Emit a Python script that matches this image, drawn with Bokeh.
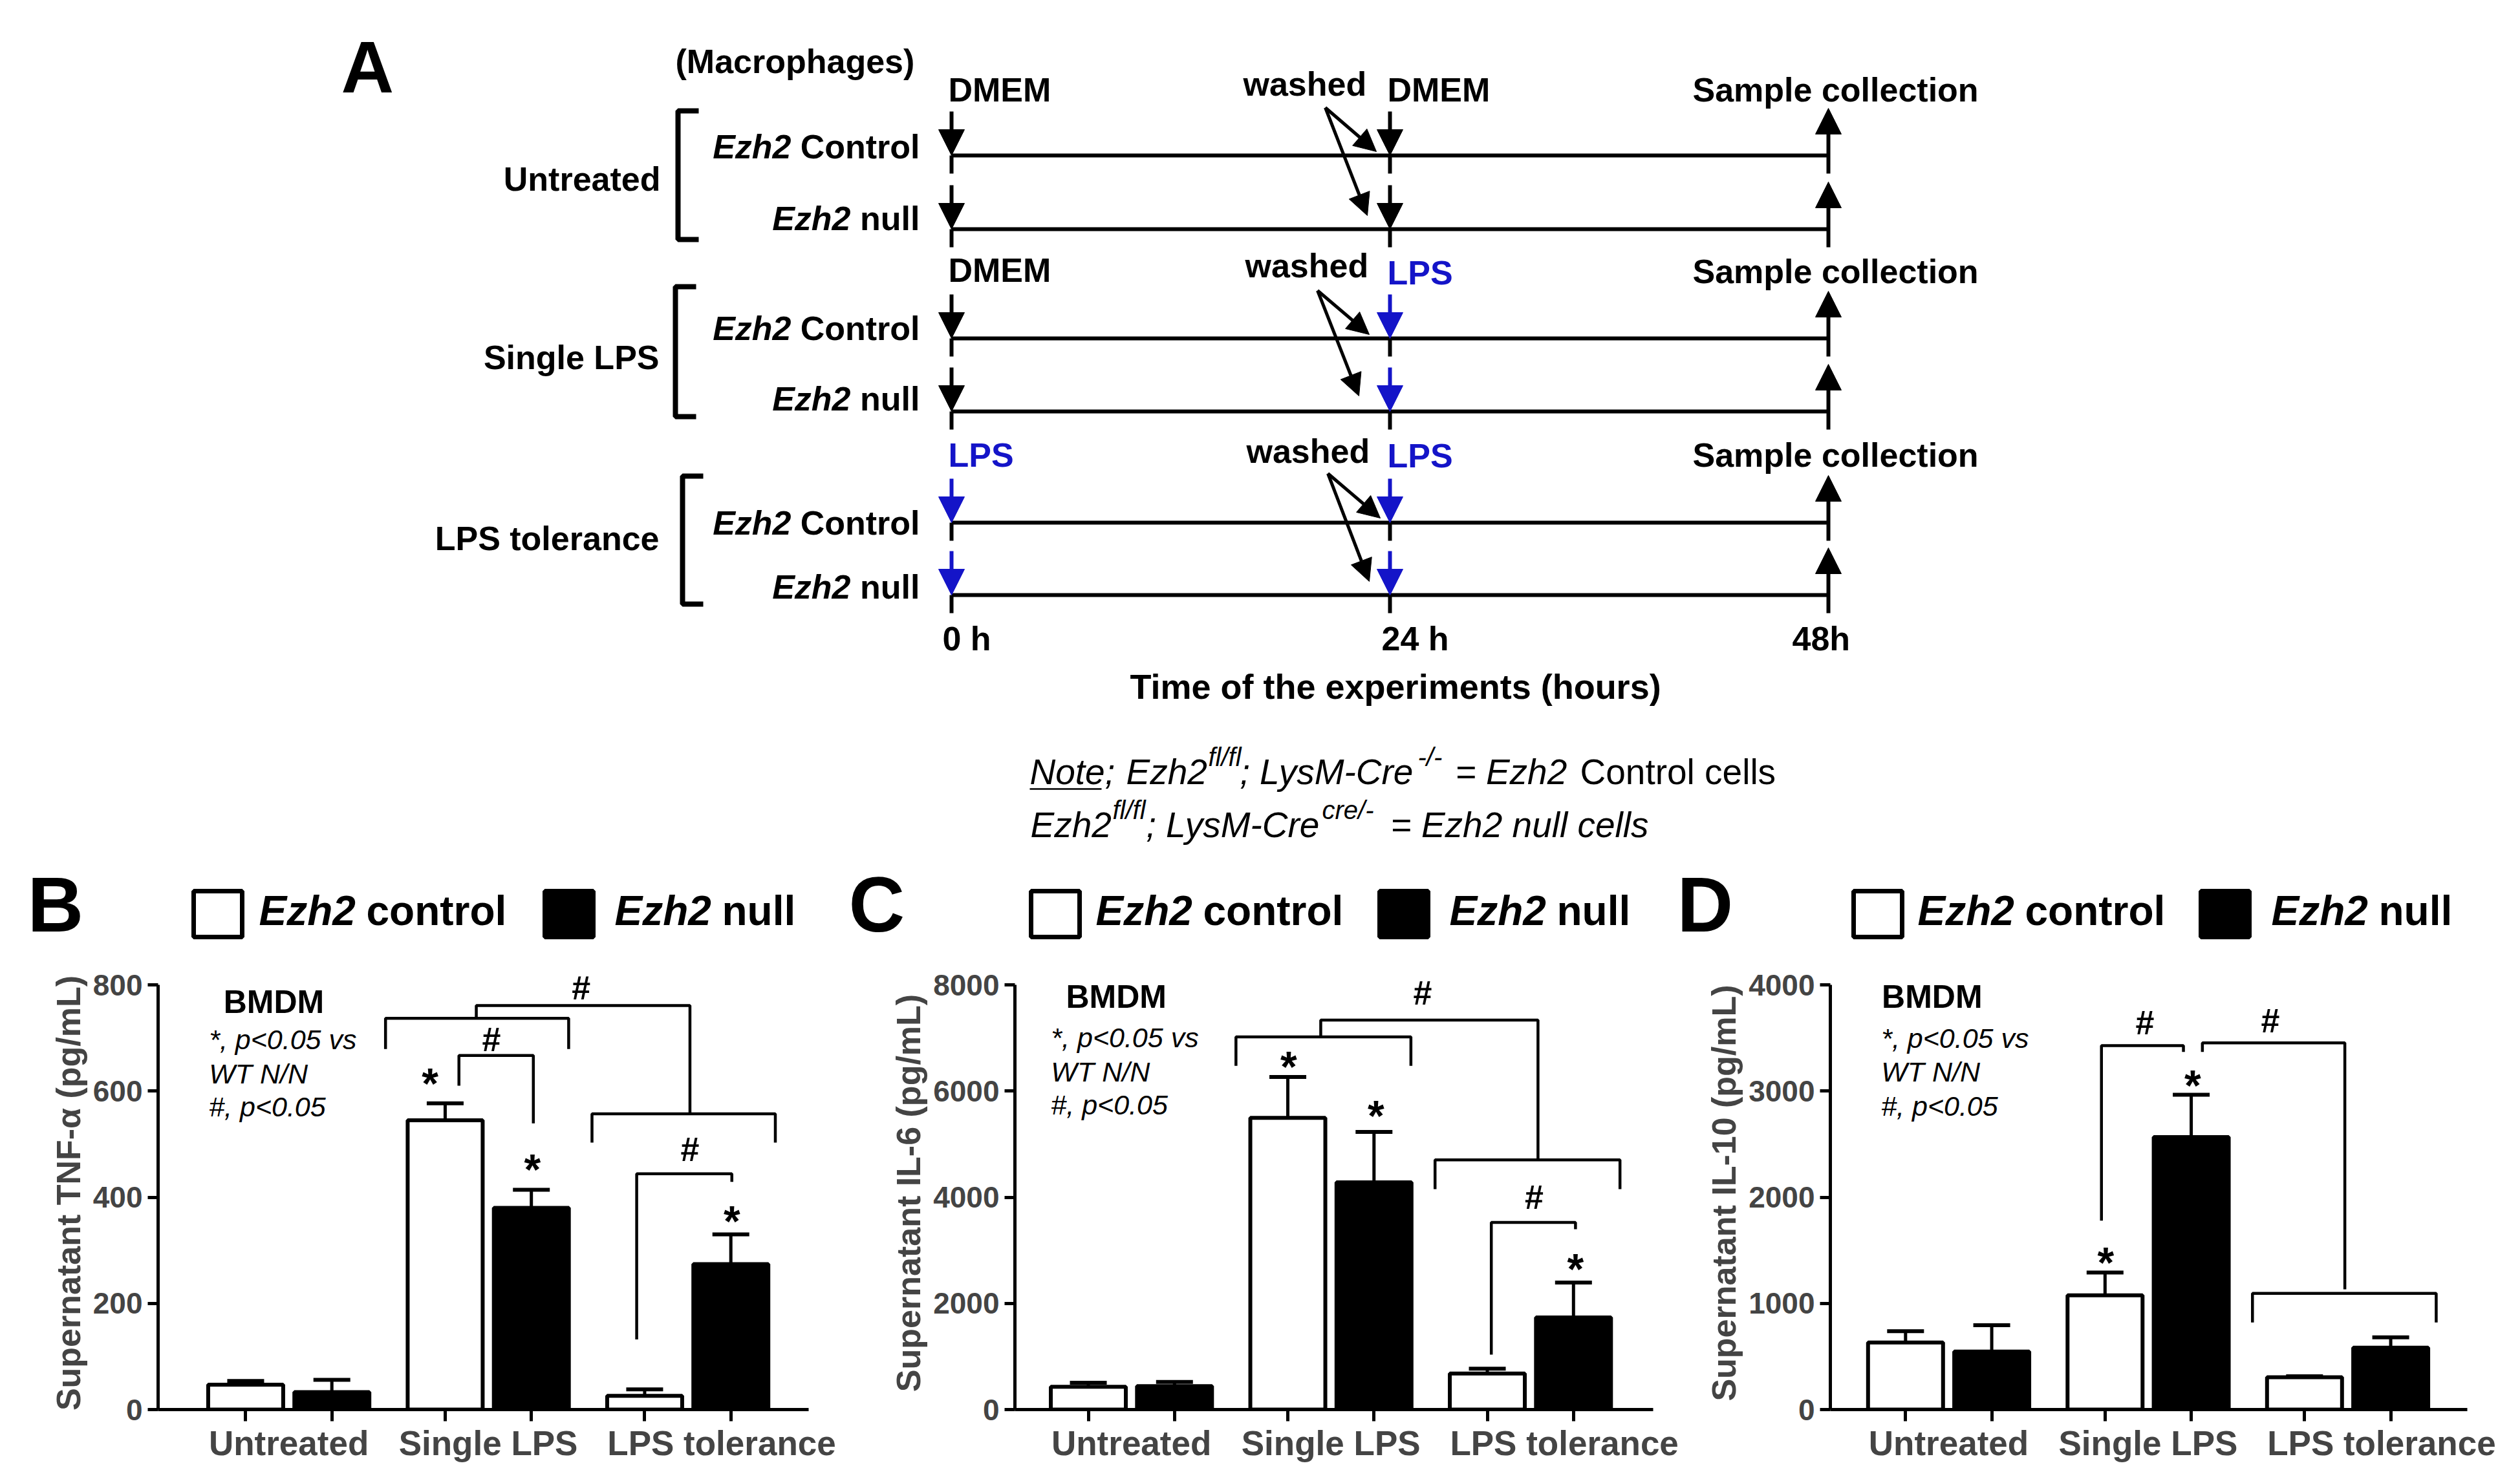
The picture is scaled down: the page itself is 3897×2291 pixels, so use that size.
import numpy as np
from bokeh.plotting import figure
from bokeh.models import (Range1d, ColumnDataSource, FixedTicker, Whisker, TeeHead,
                          Arrow, NormalHead, LinearAxis)
from bokeh.layouts import column, row
from bokeh.embed import file_html
from bokeh.resources import INLINE
from bokeh.core.properties import value

FONT = "Liberation Sans"
BLUE = "#1414C8"

# ---------------- data ----------------
categories = ["Untreated", "Single LPS", "LPS tolerance"]

tnf_control = [47, 545, 26]
tnf_control_sem = [7, 32, 12]
tnf_null = [33, 380, 274]
tnf_null_sem = [23, 34, 56]

il6_control = [430, 5494, 679]
il6_control_sem = [76, 770, 91]
il6_null = [440, 4280, 1736]
il6_null_sem = [80, 950, 656]

il10_control = [632, 1076, 305]
il10_control_sem = [106, 215, 8]
il10_null = [546, 2566, 583]
il10_null_sem = [248, 399, 98]

tnf_ticks = [0, 200, 400, 600, 800]
il6_ticks = [0, 2000, 4000, 6000, 8000]
il10_ticks = [0, 1000, 2000, 3000, 4000]

hours = [0, 24, 48]
hour_labels = ["0 h", "24 h", "48h"]
first_treatment = ["DMEM", "DMEM", "LPS"]
second_treatment = ["DMEM", "LPS", "LPS"]
row_names = ["Control", "null"]

stats_lines = ["*, p<0.05 vs", "WT N/N", "#, p<0.05"]


def add_text(p, xs, ys, texts, size, style="bold", align="left", color="black",
             y_offset=0, font=FONT):
    # ys are the vertical centres of the capital letters
    src = ColumnDataSource(dict(x=list(xs), y=list(ys), t=list(texts)))
    p.text(x="x", y="y", text="t", source=src, text_font=value(font),
           text_font_size=value(f"{size}px"), text_font_style=value(style),
           text_align=align, text_baseline="middle", text_color=color, y_offset=y_offset)


# ================= top canvas: panel A, note, letters, legends =================
TOP_W, TOP_H = 3881, 1480
top = figure(width=TOP_W, height=TOP_H, title=None, x_range=Range1d(0, TOP_W),
             y_range=Range1d(TOP_H, 0), x_axis_type=None, y_axis_type=None,
             output_backend="svg", toolbar_location=None, min_border=0)
top.outline_line_color = None


def hx(t):
    return 1471 + t * (2827 - 1471) / 48.0


row_y = [240, 354, 523, 636, 808, 920]

# timelines
top.segment(x0=[hx(hours[0])] * 6, y0=row_y, x1=[hx(hours[-1])] * 6, y1=row_y,
            line_color="black", line_width=6)

arrows = {"black": dict(x0=[], y0=[], x1=[], y1=[]), BLUE: dict(x0=[], y0=[], x1=[], y1=[])}
stub = dict(x0=[], y0=[], x1=[], y1=[])
for i, y in enumerate(row_y):
    g = i // 2
    for t, treat in ((hours[0], first_treatment[g]), (hours[1], second_treatment[g])):
        c = BLUE if treat == "LPS" else "black"
        X = hx(t)
        d = arrows[c]
        d["x0"].append(X); d["y0"].append(y - 68); d["x1"].append(X); d["y1"].append(y)
        stub["x0"].append(X); stub["y0"].append(y); stub["x1"].append(X); stub["y1"].append(y + 28)
    X = hx(hours[2])
    d = arrows["black"]
    d["x0"].append(X); d["y0"].append(y + 28); d["x1"].append(X); d["y1"].append(y - 73)

top.segment(x0="x0", y0="y0", x1="x1", y1="y1", source=ColumnDataSource(stub),
            line_color="black", line_width=6)
for c, d in arrows.items():
    top.add_layout(Arrow(end=NormalHead(size=40, fill_color=c, line_color=c, line_width=1),
                         x_start="x0", y_start="y0", x_end="x1", y_end="y1",
                         source=ColumnDataSource(d), line_color=c, line_width=6))

# "washed" arrows
wash_start = [(2049, 166), (2037, 449), (2053, 732)]
wash_tips = [[(2128, 234), (2114, 333)], [(2117, 517), (2101, 612)], [(2134, 801), (2117, 899)]]
wd = dict(x0=[], y0=[], x1=[], y1=[])
for (sx, sy), tips in zip(wash_start, wash_tips):
    for tx, ty in tips:
        wd["x0"].append(sx); wd["y0"].append(sy); wd["x1"].append(tx); wd["y1"].append(ty)
top.add_layout(Arrow(end=NormalHead(size=34, fill_color="black", line_color="black", line_width=1),
                     x_start="x0", y_start="y0", x_end="x1", y_end="y1",
                     source=ColumnDataSource(wd), line_color="black", line_width=5))

# group brackets "["
br_x = [1048, 1044, 1055]
br_top = [171, 443, 736]
br_bot = [370, 644, 934]
top.multi_line(xs=[[x + 32, x, x, x + 32] for x in br_x],
               ys=[[a, a, b, b] for a, b in zip(br_top, br_bot)],
               line_color="black", line_width=8)

# panel A texts (y = centre of capitals)
add_text(top, [527], [103], ["A"], 113)
add_text(top, [1044], [94], ["(Macrophages)"], 52)
add_text(top, [1021, 1019, 1019], [276, 552, 832], categories, 52, align="right")
row_c = [226, 337, 507, 616, 808, 907]
names = [row_names[i % 2] for i in range(6)]
add_text(top, [1422] * 6, row_c, names, 52, align="right")
add_text(top, [1223 if i % 2 == 0 else 1315 for i in range(6)], row_c, ["Ezh2"] * 6, 52,
         style="bold italic", align="right")
t0_c = [138, 417, 703]
t24_c = [138, 421, 704]
for g in range(3):
    add_text(top, [1466], [t0_c[g]], [first_treatment[g]], 52,
             color=BLUE if first_treatment[g] == "LPS" else "black")
    add_text(top, [2145], [t24_c[g]], [second_treatment[g]], 52,
             color=BLUE if second_treatment[g] == "LPS" else "black")
add_text(top, [2617] * 3, [138, 419, 703], ["Sample collection"] * 3, 52)
add_text(top, [1922, 1925, 1927], [129, 410, 697], ["washed"] * 3, 52)
add_text(top, [1457, 2136, 2771], [987] * 3, hour_labels, 52)
add_text(top, [1747], [1061], ["Time of the experiments (hours)"], 54)

# note
add_text(top, [1592, 1741, 1917, 2250], [1193] * 4, ["Note;", "Ezh2", "; LysM-Cre", "= Ezh2"], 55,
         style="italic")
add_text(top, [2443], [1193], ["Control cells"], 55, style="normal")
add_text(top, [1868, 2192], [1170, 1170], ["fl/fl", "-/-"], 40, style="italic")
add_text(top, [1593, 1772, 2150], [1275] * 3, ["Ezh2", "; LysM-Cre", "= Ezh2 null cells"], 55,
         style="italic")
add_text(top, [1720, 2044], [1252, 1252], ["fl/fl", "cre/-"], 40, style="italic")
top.segment(x0=[1592], y0=[1220], x1=[1703], y1=[1220], line_color="black", line_width=2.5)

# panel letters and legends for B, C, D
add_text(top, [42, 1312, 2593], [1398] * 3, ["B", "C", "D"], 120)
leg_white = [299, 1594, 2866]
leg_black = [842, 2133, 3403]
leg_text1 = [400, 1694, 2965]
leg_text2 = [950, 2241, 3512]
top.quad(left=leg_white, right=[x + 75 for x in leg_white], top=[1378] * 3, bottom=[1449] * 3,
         fill_color="white", line_color="black", line_width=7)
top.quad(left=leg_black, right=[x + 75 for x in leg_black], top=[1378] * 3, bottom=[1449] * 3,
         fill_color="black", line_color="black", line_width=7)
add_text(top, leg_text1 + leg_text2, [1408] * 6, ["Ezh2"] * 6, 64, style="bold italic")
add_text(top, [x + 166 for x in leg_text1], [1408] * 3, ["control"] * 3, 64)
add_text(top, [x + 166 for x in leg_text2], [1408] * 3, ["null"] * 3, 64)

# ================= bar panels =================
BW = 0.376
OFF = 0.216
GPX = 308.5  # pixels per group unit
FIG_H = 2275 - TOP_H
FRAME_TOP = 1510 - TOP_H
AXIS_BOTTOM = 2180
FRAME_H = AXIS_BOTTOM - 1510
BORDER_BOTTOM = 2275 - AXIS_BOTTOM
AXIS_PX = 657.0  # pixels from 0 to top tick


def bar_panel(ctrl, ctrl_sem, null, null_sem, ymax, yticks, ylabel, fig_w, bl, br, x0,
              brackets, hashes, stars, bmdm, stats_x, stats_y):
    y_end = ymax * FRAME_H / AXIS_PX
    frame_w = fig_w - bl - br
    x_end = x0 + frame_w / GPX
    p = figure(width=fig_w, height=FIG_H, title=None, x_range=Range1d(x0, x_end),
               y_range=Range1d(0, y_end), x_axis_type=None, y_axis_type=None,
               output_backend="svg", toolbar_location=None, min_border_left=bl,
               min_border_right=br, min_border_top=FRAME_TOP, min_border_bottom=BORDER_BOTTOM)
    p.outline_line_color = None
    g = np.arange(len(categories))
    xc = g - OFF
    xn = g + OFF
    p.vbar(x=xc, top=ctrl, width=BW, fill_color="white", line_color="black", line_width=6)
    p.vbar(x=xn, top=null, width=BW, fill_color="black", line_color="black", line_width=6)
    src = ColumnDataSource(dict(x=np.concatenate([xc, xn]),
                                lo=np.concatenate([ctrl, null]),
                                hi=np.concatenate([np.add(ctrl, ctrl_sem), np.add(null, null_sem)])))
    p.add_layout(Whisker(source=src, base="x", lower="lo", upper="hi", dimension="height",
                         line_color="black", line_width=5,
                         upper_head=TeeHead(size=57, line_width=6, line_color="black"),
                         lower_head=None, level="overlay"))

    ya = LinearAxis(ticker=FixedTicker(ticks=yticks, minor_ticks=[]), bounds=(0, ymax),
                    axis_label=ylabel, axis_line_width=5, major_tick_line_width=5,
                    major_tick_out=16, major_tick_in=0, minor_tick_out=0, minor_tick_in=0,
                    major_label_text_font=FONT, major_label_text_font_size="46px",
                    major_label_text_font_style="bold", major_label_standoff=8,
                    axis_label_text_font=FONT, axis_label_text_font_size="52px",
                    axis_label_text_font_style="bold", axis_label_standoff=6)
    p.add_layout(ya, "left")
    label_pos = [0, 1, 2.17]
    xa = LinearAxis(ticker=FixedTicker(ticks=label_pos, minor_ticks=list(np.concatenate([xc, xn]))),
                    major_label_overrides={label_pos[i]: categories[i] for i in range(3)},
                    axis_line_width=5, major_tick_out=0, major_tick_in=0,
                    minor_tick_out=18, minor_tick_in=0, minor_tick_line_width=5,
                    major_label_text_font=FONT, major_label_text_font_size="53px",
                    major_label_text_font_style="bold", major_label_standoff=4)
    p.add_layout(xa, "below")

    p.multi_line(xs=[[a[0] for a in b] for b in brackets], ys=[[a[1] for a in b] for b in brackets],
                 line_color="black", line_width=4.5)
    add_text(p, [h[0] for h in hashes], [h[1] for h in hashes], ["#"] * len(hashes), 52,
             align="center")
    add_text(p, [s[0] for s in stars], [s[1] for s in stars], ["*"] * len(stars), 66,
             align="center", y_offset=15)
    add_text(p, [bmdm[0]], [bmdm[1]], ["BMDM"], 50)
    add_text(p, [stats_x] * 3, stats_y, stats_lines, 43, style="italic")
    return p


pB = bar_panel(tnf_control, tnf_control_sem, tnf_null, tnf_null_sem, 800, tnf_ticks,
               "Supernatant TNF-α (pg/mL)", 1296, 244, 46, -0.655,
               brackets=[[(0.485, 679), (0.485, 737), (1.403, 737), (1.403, 679)],
                         [(0.940, 737), (0.940, 761), (2.011, 761), (2.011, 557)],
                         [(0.853, 610), (0.853, 667), (1.226, 667), (1.226, 539)],
                         [(1.520, 503), (1.520, 557), (2.439, 557), (2.439, 503)],
                         [(1.744, 132), (1.744, 444), (2.221, 444), (2.221, 429)]],
               hashes=[(1.466, 795), (1.016, 697), (2.011, 490)],
               stars=[(0.708, 633), (1.221, 471), (2.221, 373)],
               bmdm=(-0.327, 768), stats_x=-0.40, stats_y=[697, 633, 571])

pC = bar_panel(il6_control, il6_control_sem, il6_null, il6_null_sem, 8000, il6_ticks,
               "Supernatant IL-6 (pg/mL)", 1301, 273, 41, -0.584,
               brackets=[[(0.524, 6475), (0.524, 7019), (1.401, 7019), (1.401, 6475)],
                         [(0.949, 7019), (0.949, 7336), (2.038, 7336), (2.038, 4702)],
                         [(1.522, 4151), (1.522, 4702), (2.449, 4702), (2.449, 4151)],
                         [(1.804, 1034), (1.804, 3525), (2.226, 3525), (2.226, 3396)]],
               hashes=[(1.460, 7849), (2.019, 4000)],
               stars=[(0.788, 6642), (1.226, 5721), (2.226, 2830)],
               bmdm=(-0.328, 7774), stats_x=-0.403, stats_y=[7004, 6362, 5736])

pD = bar_panel(il10_control, il10_control_sem, il10_null, il10_null_sem, 4000, il10_ticks,
               "Supernatant IL-10 (pg/mL)", 1284, 233, 66, -0.593,
               brackets=[[(0.766, 1780), (0.766, 3428), (1.177, 3428), (1.177, 3368)],
                         [(1.272, 3368), (1.272, 3454), (1.986, 3454), (1.986, 1133)],
                         [(1.523, 820), (1.523, 1095), (2.444, 1095), (2.444, 820)]],
               hashes=[(0.984, 3643), (1.613, 3661)],
               stars=[(0.787, 1479), (1.223, 3142)],
               bmdm=(-0.335, 3887), stats_x=-0.338, stats_y=[3500, 3180, 2860])

layout = column(top, row(pB, pC, pD))
open("out.html", "w").write(file_html(layout, INLINE, title="Ezh2 macrophages"))
